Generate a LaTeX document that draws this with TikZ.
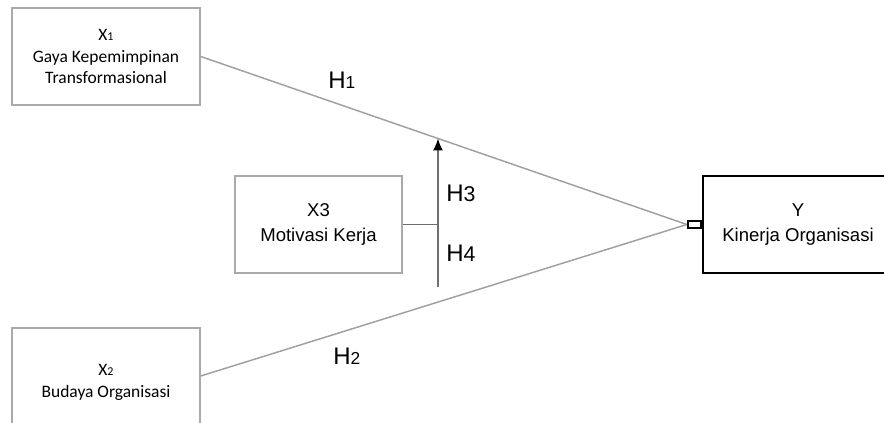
\documentclass[tikz,border=0pt]{standalone}
\usepackage{fontspec}
\setmainfont{Liberation Sans}
\newfontfamily\calibri{Carlito}
\usetikzlibrary{arrows.meta,calc}

\definecolor{boxgray}{RGB}{170,170,170}
\definecolor{linegray}{RGB}{160,160,160}
\definecolor{stemgray}{RGB}{110,110,110}

\tikzset{
  varbox/.style={draw=boxgray, line width=1.1pt, inner sep=0pt, align=center},
  calbox/.style={varbox, font=\calibri\fontsize{13.1}{16.4}\selectfont},
  arbox/.style={varbox, font=\fontsize{13.9}{18.75}\selectfont},
  hyp/.style={anchor=base west, inner sep=0pt, font=\fontsize{18}{18}\selectfont},
  conn/.style={draw=linegray, line width=1.1pt}
}

\begin{document}
\begin{tikzpicture}[x=0.75pt,y=0.75pt,yscale=-1,xscale=1]
\useasboundingbox (0,0) rectangle (884,423);
\clip (0,0) rectangle (884,423);

%Shape: Rectangle [x1]
\node [calbox, minimum width=141pt, minimum height=72.75pt] (x1) at (106,56.5)
  {X{\fontsize{9}{9}\selectfont 1}\\Gaya Kepemimpinan\\Transformasional};
%Shape: Rectangle [x2]
\node [calbox, minimum width=141pt, minimum height=81pt] (x2) at (106,382)
  {X{\fontsize{9}{9}\selectfont 2}\\Budaya Organisasi};
%Shape: Rectangle [x3]
\node [arbox, minimum width=125.25pt, minimum height=72.75pt] (x3) at (318.5,224.5)
  {X3\\Motivasi Kerja};
%Shape: Rectangle [y]
\node [arbox, draw=black, line width=1.9pt, minimum width=142.5pt, minimum height=72.75pt] (y) at (798,224.5)
  {Y\\Kinerja Organisasi};
%Shape: small port on y
\node [draw=black, line width=1.4pt, minimum width=9.75pt, minimum height=5.25pt, inner sep=0pt, anchor=east] (port) at (y.west) {};

%Straight Lines [x1 -> y, x2 -> y]
\draw [conn] (x1.east) -- (port.west);
\draw [conn] ([yshift=-4.5pt]x2.east) -- (port.west);

%Straight Lines [moderation]
\coordinate (tip) at ($(x1.east)!0.488!(port.west)$);
\coordinate (base) at (tip |- 0,287);
\draw [draw=stemgray, line width=1.1pt, -{Latex[length=9pt,width=7.5pt,black]}] (base) -- (tip);
\draw [draw=stemgray, line width=1.1pt] (x3.east) -- (x3.east -| tip);

% Text Node
\node [hyp] (h1) at (328,89) {H{\fontsize{13}{13}\selectfont 1}};
% Text Node
\node [hyp] (h2) at (333,364) {H{\fontsize{13}{13}\selectfont 2}};
% Text Node
\node [hyp] (h3) at (446,202) {H{\fontsize{16}{16}\selectfont 3}};
% Text Node
\node [hyp] (h4) at (446,262) {H{\fontsize{16}{16}\selectfont 4}};

\end{tikzpicture}
\end{document}
